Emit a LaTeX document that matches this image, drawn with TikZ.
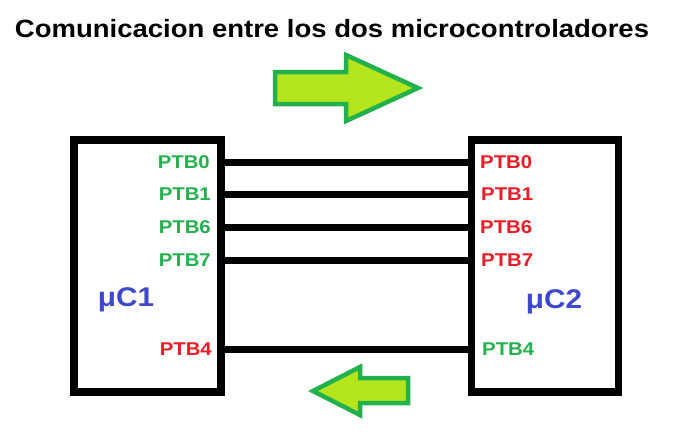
\documentclass[tikz,border=0pt]{standalone}
\usepackage{fontspec}
\setmainfont{Liberation Sans}
\usepackage{xcolor}
\definecolor{pingreen}{RGB}{34,177,76}
\definecolor{pinred}{RGB}{237,28,36}
\definecolor{ucblue}{RGB}{63,72,204}
\definecolor{lime}{RGB}{181,230,29}
\usetikzlibrary{
    positioning,
    calc
}
\newcommand{\wide}[1]{\scalebox{1.1}[1]{#1}}
\tikzstyle{chip} = [
    draw=black,
    line width=7.5pt,
    minimum width=147pt,
    minimum height=252pt,
    inner sep=0pt
]
\tikzstyle{pin} = [
    font=\bfseries\fontsize{18.5}{20}\selectfont,
    inner sep=0pt
]
\tikzstyle{wire} = [
    line width=7pt,
    draw=black
]
\tikzstyle{bigarrow} = [
    line width=4.5pt,
    draw=pingreen,
    fill=lime,
    line join=miter
]

\begin{document}
\begin{tikzpicture}[x=1pt, y=-1pt]
    \useasboundingbox (0,0) rectangle (677,442);

    % Title
    \node[font=\bfseries\fontsize{25}{27}\selectfont] (title) at (332,29) {\wide{Comunicacion entre los dos microcontroladores}};

    % Direction arrows
    \draw[bigarrow] (275,72) -- (346,72) -- (346,55) -- (418,88) -- (346,121) -- (346,104) -- (275,104) -- cycle;
    \draw[bigarrow] (408,378) -- (360,378) -- (360,367) -- (313,391) -- (360,415) -- (360,403) -- (408,403) -- cycle;

    % Microcontrollers
    \node[chip] (uc1) at (147.5,266) {};
    \node[chip] (uc2) at (545,266) {};
    \node[font=\bfseries\fontsize{27}{29}\selectfont, text=ucblue] (name1) at (126,300) {\wide{μC1}};
    \node[font=\bfseries\fontsize{27}{29}\selectfont, text=ucblue] (name2) at (554,302) {\wide{μC2}};

    % Pins of uC1
    \node[pin, text=pingreen, anchor=east] (l0) at (210,162) {\wide{PTB0}};
    \node[pin, text=pingreen, anchor=east] (l1) at (211,194) {\wide{PTB1}};
    \node[pin, text=pingreen, anchor=east] (l6) at (211,227) {\wide{PTB6}};
    \node[pin, text=pingreen, anchor=east] (l7) at (211,260) {\wide{PTB7}};
    \node[pin, text=pinred, anchor=east] (l4) at (212,349) {\wide{PTB4}};

    % Pins of uC2
    \node[pin, text=pinred, anchor=west] (r0) at (480,162) {\wide{PTB0}};
    \node[pin, text=pinred, anchor=west] (r1) at (481,194) {\wide{PTB1}};
    \node[pin, text=pinred, anchor=west] (r6) at (480,227) {\wide{PTB6}};
    \node[pin, text=pinred, anchor=west] (r7) at (481,260) {\wide{PTB7}};
    \node[pin, text=pingreen, anchor=west] (r4) at (482,349) {\wide{PTB4}};

    % Wires
    \foreach \p in {0,1,6,7,4}
        \draw[wire] (uc1.east |- l\p) -- (uc2.west |- r\p);
\end{tikzpicture}
\end{document}
